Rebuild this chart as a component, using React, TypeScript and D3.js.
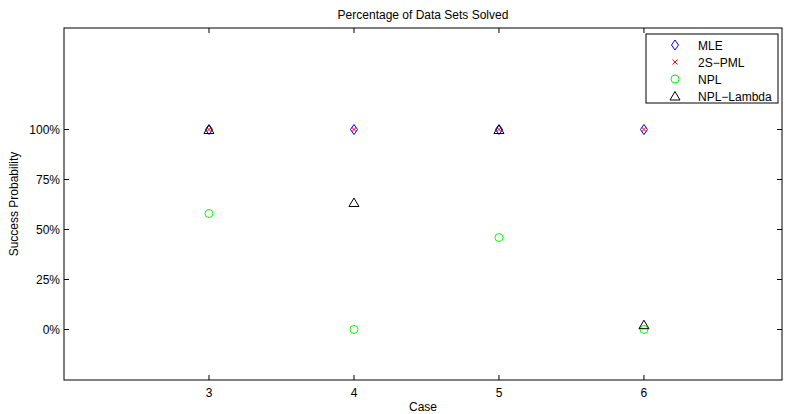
import React, { useEffect, useRef } from 'react';
import * as d3 from 'd3';

const cases = [3, 4, 5, 6];
const mle = [1, 1, 1, 1];
const pml = [1, 1, 1, 1];
const npl = [0.58, 0, 0.46, 0];
const nplLambda = [1, 0.635, 1, 0.024];
const yTicks = [0, 0.25, 0.5, 0.75, 1];

const App: React.FC = () => {
  const svgRef = useRef<SVGSVGElement | null>(null);

  useEffect(() => {
    if (!svgRef.current) return;
    const svg = d3.select(svgRef.current);
    svg.selectAll('*').remove();

    const left = 64, right = 782, top = 28, bottom = 380;
    const font = 'Liberation Sans, Arial, sans-serif';

    const x = d3.scaleLinear().domain([2, 6.952]).range([left, right]);
    const y = d3.scaleLinear().domain([-0.2525, 1.5075]).range([bottom, top]);

    // Frame
    svg.append('rect')
      .attr('x', left).attr('y', top)
      .attr('width', right - left).attr('height', bottom - top)
      .attr('fill', 'white').attr('stroke', '#000').attr('stroke-width', 1);

    const tl = 5;
    // X ticks bottom + top
    cases.forEach((c) => {
      svg.append('line').attr('x1', x(c)).attr('x2', x(c)).attr('y1', bottom).attr('y2', bottom - tl).attr('stroke', '#000');
      svg.append('line').attr('x1', x(c)).attr('x2', x(c)).attr('y1', top).attr('y2', top + tl).attr('stroke', '#000');
      svg.append('text').attr('x', x(c)).attr('y', bottom + 17).attr('text-anchor', 'middle')
        .attr('font-family', font).attr('font-size', 12).text(String(c));
    });

    // Y ticks left + right
    yTicks.forEach((t) => {
      svg.append('line').attr('x1', left).attr('x2', left + tl).attr('y1', y(t)).attr('y2', y(t)).attr('stroke', '#000');
      svg.append('line').attr('x1', right).attr('x2', right - tl).attr('y1', y(t)).attr('y2', y(t)).attr('stroke', '#000');
      svg.append('text').attr('x', left - 4).attr('y', y(t) + 4).attr('text-anchor', 'end')
        .attr('font-family', font).attr('font-size', 12).text(`${Math.round(t * 100)}%`);
    });

    // Titles
    svg.append('text').attr('x', (left + right) / 2).attr('y', 19).attr('text-anchor', 'middle')
      .attr('font-family', font).attr('font-size', 12).text('Percentage of Data Sets Solved');
    svg.append('text').attr('x', (left + right) / 2).attr('y', 411).attr('text-anchor', 'middle')
      .attr('font-family', font).attr('font-size', 12).text('Case');
    svg.append('text').attr('transform', `translate(18,${(top + bottom) / 2}) rotate(-90)`)
      .attr('text-anchor', 'middle').attr('font-family', font).attr('font-size', 12).text('Success Probability');

    const diamond = (g: any, cx: number, cy: number) =>
      g.append('path').attr('d', `M${cx},${cy - 5}L${cx + 3.5},${cy}L${cx},${cy + 5}L${cx - 3.5},${cy}Z`)
        .attr('fill', 'none').attr('stroke', '#0000ff').attr('stroke-width', 1);
    const cross = (g: any, cx: number, cy: number) =>
      g.append('path').attr('d', `M${cx - 2.5},${cy - 2.5}L${cx + 2.5},${cy + 2.5}M${cx - 2.5},${cy + 2.5}L${cx + 2.5},${cy - 2.5}`)
        .attr('fill', 'none').attr('stroke', '#ff0000').attr('stroke-width', 1);
    const circle = (g: any, cx: number, cy: number) =>
      g.append('circle').attr('cx', cx).attr('cy', cy).attr('r', 4)
        .attr('fill', 'none').attr('stroke', '#00ff00').attr('stroke-width', 1);
    const triangle = (g: any, cx: number, cy: number) =>
      g.append('path').attr('d', `M${cx},${cy - 4.5}L${cx + 5},${cy + 4}L${cx - 5},${cy + 4}Z`)
        .attr('fill', 'none').attr('stroke', '#000').attr('stroke-width', 1);

    const series: [number[], any][] = [
      [mle, diamond],
      [pml, cross],
      [npl, circle],
      [nplLambda, triangle],
    ];
    const marks = svg.append('g');
    series.forEach(([vals, fn]) => {
      vals.forEach((v, i) => fn(marks, x(cases[i]), y(v)));
    });

    // Legend
    const lg = svg.append('g');
    lg.append('rect').attr('x', 646).attr('y', 34).attr('width', 132).attr('height', 69)
      .attr('fill', 'white').attr('stroke', '#000').attr('stroke-width', 1);
    const names = ['MLE', '2S\u2212PML', 'NPL', 'NPL\u2212Lambda'];
    names.forEach((n, i) => {
      const cy = 45 + i * 17;
      series[i][1](lg, 675, cy);
      lg.append('text').attr('x', 698).attr('y', cy + 4.5)
        .attr('font-family', font).attr('font-size', 12).text(n);
    });
  }, []);

  return (
    <svg ref={svgRef} width={785} height={414} style={{ position: 'absolute', left: 0, top: 0 }} />
  );
};

export default App;
